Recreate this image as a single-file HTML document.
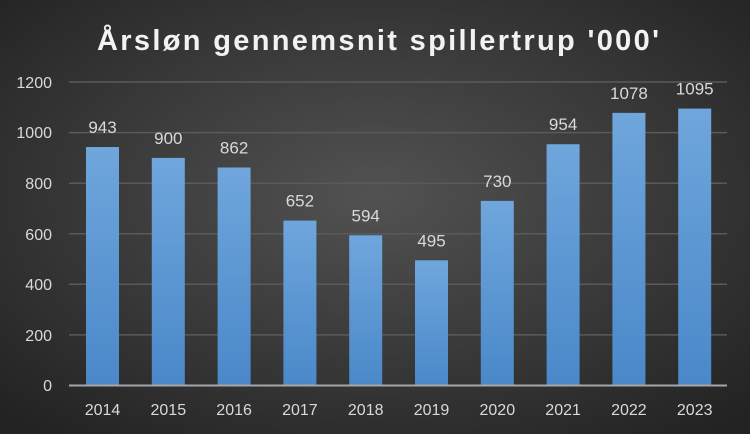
<!DOCTYPE html>
<html><head><meta charset="utf-8"><style>
html,body{margin:0;padding:0;width:750px;height:434px;overflow:hidden;background:#2a2a2a}
</style></head><body>
<svg width="750" height="434" xmlns="http://www.w3.org/2000/svg" font-family="Liberation Sans, sans-serif">
<defs>
<radialGradient id="bg" cx="50%" cy="45%" r="70%">
<stop offset="0" stop-color="#525252"/>
<stop offset="1" stop-color="#232323"/>
</radialGradient>
<linearGradient id="bar" x1="0" y1="0" x2="0" y2="1">
<stop offset="0" stop-color="#6fa6dc"/>
<stop offset="1" stop-color="#4a88c9"/>
</linearGradient>
</defs>
<rect width="750" height="434" fill="url(#bg)"/>
<text x="378" y="50" text-anchor="middle" font-size="29" font-weight="bold" fill="#f2f2f2" textLength="562" lengthAdjust="spacing">Årsløn gennemsnit spillertrup '000'</text>
<g stroke="#5a5a5a" stroke-width="1.5">
<line x1="69" x2="727" y1="82" y2="82"/>
<line x1="69" x2="727" y1="132.6" y2="132.6"/>
<line x1="69" x2="727" y1="183.2" y2="183.2"/>
<line x1="69" x2="727" y1="233.8" y2="233.8"/>
<line x1="69" x2="727" y1="284.3" y2="284.3"/>
<line x1="69" x2="727" y1="334.9" y2="334.9"/>
</g>
<g font-size="16" fill="#d9d9d9" text-anchor="end">
<text x="52" y="88">1200</text><text x="52" y="138">1000</text><text x="52" y="189">800</text>
<text x="52" y="240">600</text><text x="52" y="290">400</text><text x="52" y="341">200</text><text x="52" y="391">0</text>
</g>
<g id="bars"></g>
<line x1="69" x2="727" y1="385.5" y2="385.5" stroke="#a6a6a6" stroke-width="2"/>
</svg>
<script>
var v=[943,900,862,652,594,495,730,954,1078,1095],g=document.getElementById('bars'),s='';
for(var i=0;i<10;i++){var cx=102.5+i*65.8,h=v[i]*0.2529,y=385.5-h;
s+='<rect x="'+(cx-16.5)+'" y="'+y+'" width="33" height="'+h+'" fill="url(#bar)"/>';
s+='<text x="'+cx+'" y="'+(y-14)+'" text-anchor="middle" font-size="17" fill="#d9d9d9">'+v[i]+'</text>';
s+='<text x="'+cx+'" y="415" text-anchor="middle" font-size="16" fill="#d9d9d9">'+(2014+i)+'</text>';}
g.innerHTML=s;
</script>
</body></html>
